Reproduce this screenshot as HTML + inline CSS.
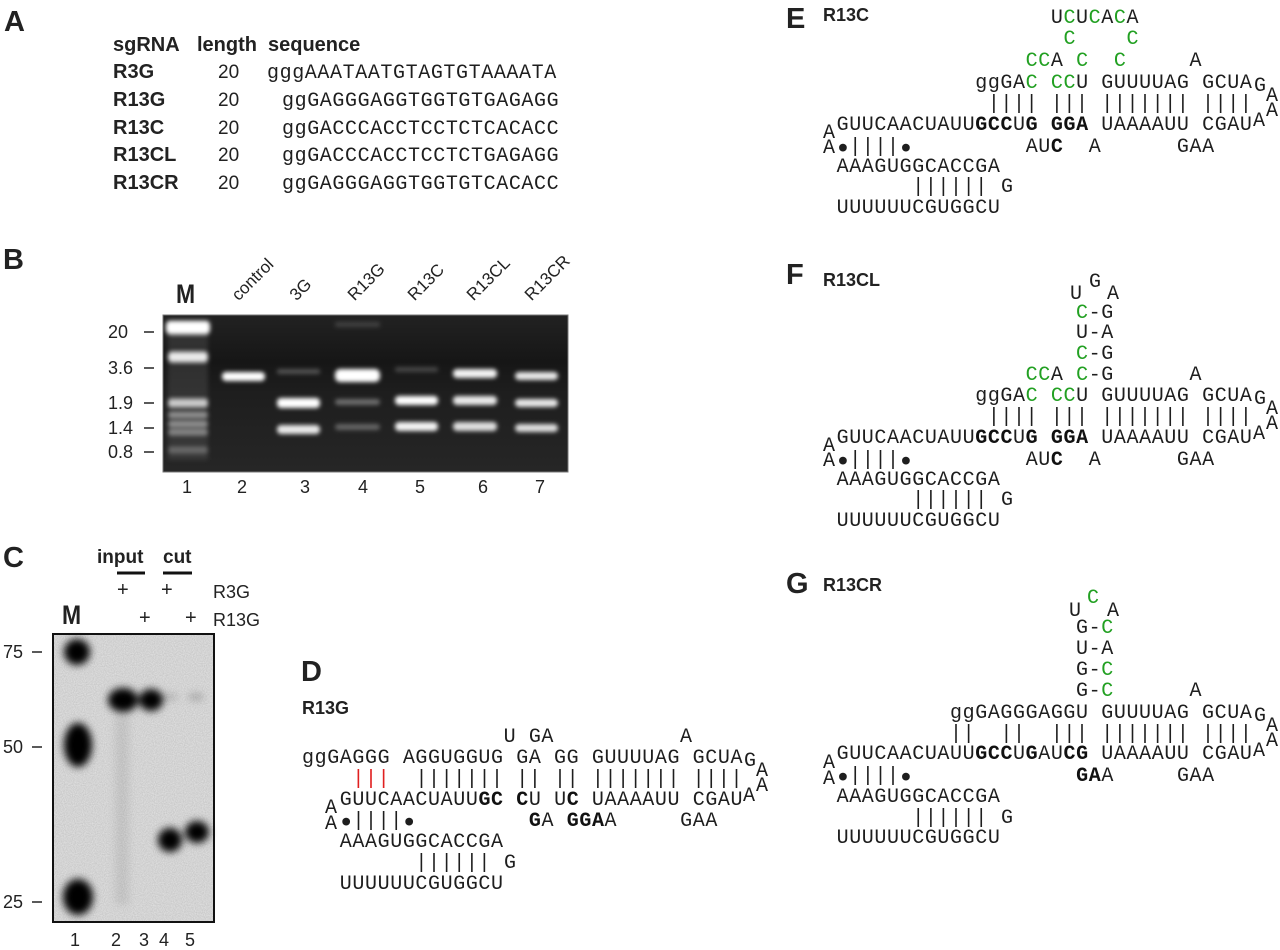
<!DOCTYPE html>
<html><head><meta charset="utf-8"><style>
body{margin:0;width:1280px;height:947px;background:#fff;position:relative;overflow:hidden;color:#222}
.t{position:absolute;white-space:pre;line-height:20px;font-family:"Liberation Sans",sans-serif;font-size:18px}
.L{font-weight:bold;font-size:29px;line-height:30px}
.h{font-weight:bold;font-size:20px}
.m{position:absolute;white-space:pre;font-family:"Liberation Mono",monospace;font-size:20px;letter-spacing:0.6px;line-height:21px;color:#1e1e1e}
.m b{font-weight:bold;color:#111}
.d{font-size:13px;letter-spacing:2.4px;padding-left:2.4px;font-family:"DejaVu Sans Mono",monospace;vertical-align:1px}
.g{color:#22a022}
.r{color:#e02020}
.rot{transform-origin:0 100%;transform:rotate(-45deg);font-size:17px}
</style></head><body>
<svg width="1280" height="947" style="position:absolute;left:0;top:0">
<defs>
<filter id="bl" x="-50%" y="-50%" width="200%" height="200%"><feGaussianBlur stdDeviation="2"/></filter>
<filter id="bl2" x="-50%" y="-50%" width="200%" height="200%"><feGaussianBlur stdDeviation="4"/></filter>
<filter id="nz" x="0" y="0" width="1" height="1"><feTurbulence type="fractalNoise" baseFrequency="0.9" numOctaves="1" seed="3"/><feColorMatrix values="0 0 0 0 0  0 0 0 0 0  0 0 0 0 0  0 0 0 0.18 0"/></filter>
<linearGradient id="gg" x1="0" y1="0" x2="0" y2="1"><stop offset="0" stop-color="#222"/><stop offset="0.3" stop-color="#161616"/><stop offset="0.5" stop-color="#1e1e1e"/><stop offset="1" stop-color="#262626"/></linearGradient>
</defs>
<rect x="163" y="315" width="405" height="157" fill="url(#gg)" stroke="#777" stroke-width="1"/>
<g fill="#fff" filter="url(#bl)">
<rect x="168" y="320" width="40" height="140" fill="#555" opacity="0.4"/>
<rect x="166" y="321" width="44" height="13" rx="4"/>
<rect x="168" y="352" width="40" height="10" rx="4" opacity="0.9"/>
<rect x="168" y="399" width="40" height="8" rx="3" opacity="0.75"/>
<rect x="168" y="412" width="40" height="6" rx="3" opacity="0.45"/>
<rect x="168" y="421" width="40" height="6" rx="3" opacity="0.45"/>
<rect x="168" y="429" width="40" height="6" rx="3" opacity="0.4"/>
<rect x="168" y="447" width="40" height="6" rx="3" opacity="0.25"/>
<rect x="222" y="372" width="43" height="9" rx="4"/>
<rect x="277" y="369" width="43" height="5" rx="2" opacity="0.25"/>
<rect x="277" y="398" width="43" height="10" rx="4"/>
<rect x="277" y="425" width="43" height="9" rx="4" opacity="0.9"/>
<rect x="335" y="322" width="45" height="5" rx="2" opacity="0.15"/>
<rect x="335" y="369" width="45" height="13" rx="5"/>
<rect x="335" y="399" width="45" height="6" rx="3" opacity="0.35"/>
<rect x="335" y="424" width="45" height="6" rx="3" opacity="0.3"/>
<rect x="395" y="367" width="43" height="5" rx="2" opacity="0.2"/>
<rect x="395" y="396" width="43" height="9" rx="4"/>
<rect x="395" y="422" width="43" height="9" rx="4" opacity="0.95"/>
<rect x="453" y="369" width="44" height="9" rx="4" opacity="0.95"/>
<rect x="453" y="396" width="44" height="9" rx="4" opacity="0.9"/>
<rect x="453" y="422" width="44" height="9" rx="4" opacity="0.85"/>
<rect x="515" y="372" width="43" height="8" rx="4" opacity="0.9"/>
<rect x="515" y="399" width="43" height="8" rx="4" opacity="0.9"/>
<rect x="515" y="424" width="43" height="8" rx="4" opacity="0.85"/>
</g>
<g stroke="#222" stroke-width="1.5">
<line x1="144" y1="332" x2="154" y2="332"/><line x1="144" y1="368" x2="154" y2="368"/>
<line x1="144" y1="403" x2="154" y2="403"/><line x1="144" y1="428" x2="154" y2="428"/>
<line x1="144" y1="452" x2="154" y2="452"/>
</g>
<rect x="53" y="634" width="161" height="288" fill="#e8e8e8"/>
<rect x="53" y="634" width="161" height="288" filter="url(#nz)"/>
<g fill="#000" filter="url(#bl2)">
<ellipse cx="77" cy="652" rx="13" ry="13"/>
<ellipse cx="78" cy="745" rx="14" ry="22"/>
<ellipse cx="78" cy="897" rx="15" ry="18"/>
<ellipse cx="123" cy="700" rx="15" ry="12"/>
<ellipse cx="151" cy="700" rx="12" ry="11"/>
<ellipse cx="170" cy="840" rx="12" ry="12"/>
<ellipse cx="197" cy="832" rx="12" ry="11"/>
<ellipse cx="170" cy="697" rx="8" ry="4" opacity="0.15"/>
<ellipse cx="196" cy="697" rx="8" ry="4" opacity="0.2"/>
<rect x="115" y="715" width="14" height="190" opacity="0.08"/>
</g>
<rect x="53" y="634" width="161" height="288" fill="none" stroke="#111" stroke-width="2"/>
<g stroke="#222" stroke-width="1.5">
<line x1="32" y1="652" x2="42" y2="652"/><line x1="32" y1="747" x2="42" y2="747"/><line x1="32" y1="902" x2="42" y2="902"/>
</g>
<g stroke="#111" stroke-width="3"><line x1="117" y1="573" x2="145" y2="573"/><line x1="163" y1="573" x2="192" y2="573"/></g>
</svg>

<div class="t L" style="left:4px;top:7px">A</div>
<div class="t L" style="left:3px;top:245px">B</div>
<div class="t L" style="left:3px;top:543px">C</div>
<div class="t L" style="left:301px;top:657px">D</div>
<div class="t L" style="left:786px;top:4px">E</div>
<div class="t L" style="left:786px;top:260px">F</div>
<div class="t L" style="left:786px;top:569px">G</div>

<div class="t h" style="left:113px;top:35px">sgRNA</div>
<div class="t h" style="left:197px;top:35px">length</div>
<div class="t h" style="left:268px;top:35px">sequence</div>
<div class="t h" style="left:113px;top:62px">R3G</div>
<div class="t h" style="left:113px;top:90px">R13G</div>
<div class="t h" style="left:113px;top:118px">R13C</div>
<div class="t h" style="left:113px;top:145px">R13CL</div>
<div class="t h" style="left:113px;top:173px">R13CR</div>
<div class="t" style="left:218px;top:63px;font-size:19px">20</div>
<div class="t" style="left:218px;top:91px;font-size:19px">20</div>
<div class="t" style="left:218px;top:119px;font-size:19px">20</div>
<div class="t" style="left:218px;top:146px;font-size:19px">20</div>
<div class="t" style="left:218px;top:174px;font-size:19px">20</div>
<div class="m" style="left:267px;top:63px">gggAAATAATGTAGTGTAAAATA</div>
<div class="m" style="left:282px;top:91px">ggGAGGGAGGTGGTGTGAGAGG</div>
<div class="m" style="left:282px;top:119px">ggGACCCACCTCCTCTCACACC</div>
<div class="m" style="left:282px;top:146px">ggGACCCACCTCCTCTGAGAGG</div>
<div class="m" style="left:282px;top:174px">ggGAGGGAGGTGGTGTCACACC</div>

<div class="t" style="left:176px;top:284px;font-size:27px;font-weight:bold;transform:scaleX(0.85);transform-origin:0 0">M</div>
<div class="t rot" style="left:242px;top:285px">control</div>
<div class="t rot" style="left:300px;top:285px">3G</div>
<div class="t rot" style="left:358px;top:285px">R13G</div>
<div class="t rot" style="left:418px;top:285px">R13C</div>
<div class="t rot" style="left:477px;top:285px">R13CL</div>
<div class="t rot" style="left:535px;top:285px">R13CR</div>
<div class="t" style="left:108px;top:322px">20</div>
<div class="t" style="left:108px;top:358px">3.6</div>
<div class="t" style="left:108px;top:393px">1.9</div>
<div class="t" style="left:108px;top:418px">1.4</div>
<div class="t" style="left:108px;top:442px">0.8</div>
<div class="t" style="left:182px;top:477px">1</div>
<div class="t" style="left:237px;top:477px">2</div>
<div class="t" style="left:300px;top:477px">3</div>
<div class="t" style="left:358px;top:477px">4</div>
<div class="t" style="left:415px;top:477px">5</div>
<div class="t" style="left:478px;top:477px">6</div>
<div class="t" style="left:535px;top:477px">7</div>

<div class="t" style="left:97px;top:548px;font-weight:bold;font-size:19px">input</div>
<div class="t" style="left:163px;top:548px;font-weight:bold;font-size:19px">cut</div>
<div class="t" style="left:117px;top:580px;font-size:20px">+</div>
<div class="t" style="left:161px;top:580px;font-size:20px">+</div>
<div class="t" style="left:139px;top:608px;font-size:20px">+</div>
<div class="t" style="left:185px;top:608px;font-size:20px">+</div>
<div class="t" style="left:213px;top:582px">R3G</div>
<div class="t" style="left:213px;top:610px">R13G</div>
<div class="t" style="left:62px;top:605px;font-size:27px;font-weight:bold;transform:scaleX(0.85);transform-origin:0 0">M</div>
<div class="t" style="left:3px;top:642px">75</div>
<div class="t" style="left:3px;top:737px">50</div>
<div class="t" style="left:3px;top:892px">25</div>
<div class="t" style="left:70px;top:930px">1</div>
<div class="t" style="left:111px;top:930px">2</div>
<div class="t" style="left:139px;top:930px">3</div>
<div class="t" style="left:159px;top:930px">4</div>
<div class="t" style="left:185px;top:930px">5</div>

<div class="t h" style="left:302px;top:698px;font-size:18px">R13G</div>
<div class="m" style="left:302px;top:727px">                U GA          A</div>
<div class="m" style="left:302px;top:748px">ggGAGGG AGGUGGUG GA GG GUUUUAG GCUA</div>
<div class="m" style="left:302px;top:769px">    <span class="r">|||</span>  ||||||| || || ||||||| ||||</div>
<div class="m" style="left:302px;top:790px">   GUUCAACUAUU<b>GC</b> <b>C</b>U U<b>C</b> UAAAAUU CGAU</div>
<div class="m" style="left:302px;top:811px">   <span class="d">●</span>||||<span class="d">●</span>         <b>G</b>A <b>GGA</b>A     GAA</div>
<div class="m" style="left:302px;top:832px">   AAAGUGGCACCGA</div>
<div class="m" style="left:302px;top:853px">         ||||||</div>
<div class="m" style="left:504px;top:853px">G</div>
<div class="m" style="left:302px;top:874px">   UUUUUUCGUGGCU</div>
<div class="m" style="left:325px;top:798px">A</div>
<div class="m" style="left:325px;top:814px">A</div>
<div class="m" style="left:744px;top:751px">G</div>
<div class="m" style="left:756px;top:761px">A</div>
<div class="m" style="left:756px;top:776px">A</div>
<div class="m" style="left:743px;top:786px">A</div>

<div class="t h" style="left:823px;top:5px;font-size:18px">R13C</div>
<div class="m" style="left:824px;top:8px">                  U<span class="g">C</span>U<span class="g">C</span>A<span class="g">C</span>A</div>
<div class="m" style="left:824px;top:29px">                   <span class="g">C</span>    <span class="g">C</span></div>
<div class="m" style="left:824px;top:51px">                <span class="g">CC</span>A <span class="g">C</span>  <span class="g">C</span>     A</div>
<div class="m" style="left:824px;top:73px">            ggGA<span class="g">C</span> <span class="g">CC</span>U GUUUUAG GCUA</div>
<div class="m" style="left:824px;top:94px">             |||| ||| ||||||| ||||</div>
<div class="m" style="left:824px;top:115px"> GUUCAACUAUU<b>GCC</b>U<b>G</b> <b>GGA</b> UAAAAUU CGAU</div>
<div class="m" style="left:824px;top:137px"> <span class="d">●</span>||||<span class="d">●</span>         AU<b>C</b>  A      GAA</div>
<div class="m" style="left:824px;top:157px"> AAAGUGGCACCGA</div>
<div class="m" style="left:824px;top:177px">       ||||||</div>
<div class="m" style="left:1001px;top:177px">G</div>
<div class="m" style="left:824px;top:198px"> UUUUUUCGUGGCU</div>
<div class="m" style="left:823px;top:123px">A</div>
<div class="m" style="left:823px;top:138px">A</div>
<div class="m" style="left:1254px;top:76px">G</div>
<div class="m" style="left:1266px;top:86px">A</div>
<div class="m" style="left:1266px;top:101px">A</div>
<div class="m" style="left:1253px;top:111px">A</div>

<div class="t h" style="left:823px;top:270px;font-size:18px">R13CL</div>
<div class="m" style="left:1089px;top:272px">G</div>
<div class="m" style="left:1070px;top:284px">U</div>
<div class="m" style="left:1107px;top:284px">A</div>
<div class="m" style="left:824px;top:303px">                    <span class="g">C</span>-G</div>
<div class="m" style="left:824px;top:323px">                    U-A</div>
<div class="m" style="left:824px;top:344px">                    <span class="g">C</span>-G</div>
<div class="m" style="left:824px;top:365px">                <span class="g">CC</span>A <span class="g">C</span>-G      A</div>
<div class="m" style="left:824px;top:386px">            ggGA<span class="g">C</span> <span class="g">CC</span>U GUUUUAG GCUA</div>
<div class="m" style="left:824px;top:407px">             |||| ||| ||||||| ||||</div>
<div class="m" style="left:824px;top:428px"> GUUCAACUAUU<b>GCC</b>U<b>G</b> <b>GGA</b> UAAAAUU CGAU</div>
<div class="m" style="left:824px;top:450px"> <span class="d">●</span>||||<span class="d">●</span>         AU<b>C</b>  A      GAA</div>
<div class="m" style="left:824px;top:470px"> AAAGUGGCACCGA</div>
<div class="m" style="left:824px;top:490px">       ||||||</div>
<div class="m" style="left:1001px;top:490px">G</div>
<div class="m" style="left:824px;top:511px"> UUUUUUCGUGGCU</div>
<div class="m" style="left:823px;top:436px">A</div>
<div class="m" style="left:823px;top:451px">A</div>
<div class="m" style="left:1254px;top:389px">G</div>
<div class="m" style="left:1266px;top:399px">A</div>
<div class="m" style="left:1266px;top:414px">A</div>
<div class="m" style="left:1253px;top:424px">A</div>

<div class="t h" style="left:823px;top:575px;font-size:18px">R13CR</div>
<div class="m" style="left:1087px;top:588px"><span class="g">C</span></div>
<div class="m" style="left:1069px;top:601px">U</div>
<div class="m" style="left:1107px;top:601px">A</div>
<div class="m" style="left:824px;top:618px">                    G-<span class="g">C</span></div>
<div class="m" style="left:824px;top:639px">                    U-A</div>
<div class="m" style="left:824px;top:660px">                    G-<span class="g">C</span></div>
<div class="m" style="left:824px;top:681px">                    G-<span class="g">C</span>      A</div>
<div class="m" style="left:824px;top:703px">          ggGAGGGAGGU GUUUUAG GCUA</div>
<div class="m" style="left:824px;top:724px">          ||  ||  ||| ||||||| ||||</div>
<div class="m" style="left:824px;top:744px"> GUUCAACUAUU<b>GCC</b>U<b>G</b>AU<b>CG</b> UAAAAUU CGAU</div>
<div class="m" style="left:824px;top:766px"> <span class="d">●</span>||||<span class="d">●</span>             <b>GA</b>A     GAA</div>
<div class="m" style="left:824px;top:787px"> AAAGUGGCACCGA</div>
<div class="m" style="left:824px;top:808px">       ||||||</div>
<div class="m" style="left:1001px;top:808px">G</div>
<div class="m" style="left:824px;top:828px"> UUUUUUCGUGGCU</div>
<div class="m" style="left:823px;top:753px">A</div>
<div class="m" style="left:823px;top:769px">A</div>
<div class="m" style="left:1254px;top:706px">G</div>
<div class="m" style="left:1266px;top:716px">A</div>
<div class="m" style="left:1266px;top:731px">A</div>
<div class="m" style="left:1253px;top:741px">A</div>
</body></html>
